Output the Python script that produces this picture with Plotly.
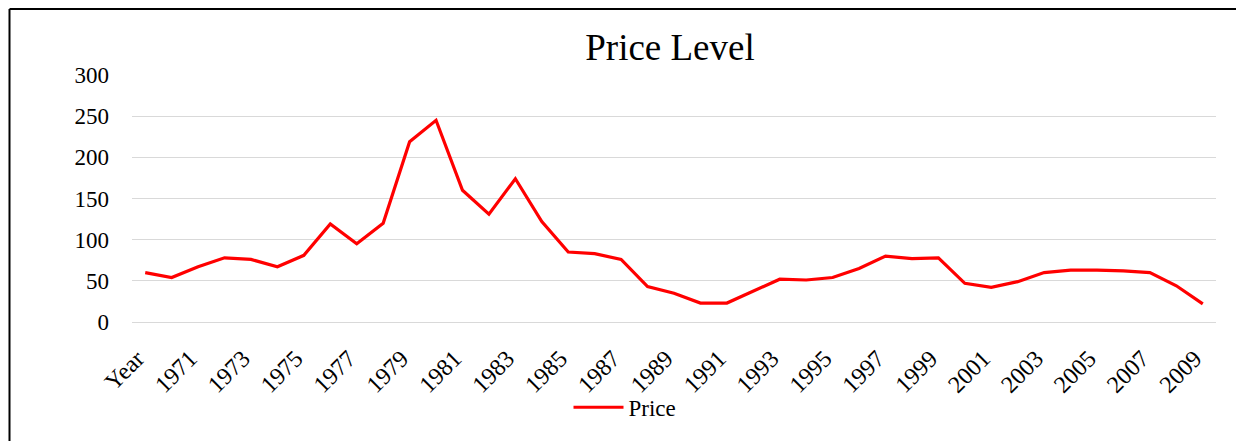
import plotly.graph_objects as go

categories = ["Year"] + [str(y) for y in range(1970, 2010)]
price = [60, 54, 67, 78, 76, 67, 81, 119, 95, 120, 219, 245, 160,
         131, 174, 122, 85, 83, 76, 43, 35, 23, 23, 38, 52, 51, 54,
         65, 80, 77, 78, 47, 42, 49, 60, 63, 63, 62, 60, 44, 22]
tick_labels = categories[::2]
y_ticks = [0, 50, 100, 150, 200, 250, 300]

W, H = 1236, 441
ML, MR, MT, MB = 132, 20, 75, 117
PW, PH = W - ML - MR, H - MT - MB

FONT = "Liberation Serif, Times New Roman, serif"

fig = go.Figure()
fig.add_trace(go.Scatter(
    x=categories, y=price, mode="lines", name="Price",
    line=dict(color="#FF0000", width=3.2),
))

fig.update_layout(
    width=W, height=H,
    margin=dict(l=ML, r=MR, t=MT, b=MB),
    paper_bgcolor="white", plot_bgcolor="white",
    font=dict(family=FONT, color="black"),
    title=dict(text="Price Level", x=(670 - ML) / PW, xref="paper", xanchor="center",
               y=1 - 47 / H, yref="container", yanchor="middle",
               font=dict(family=FONT, size=37, color="black")),
    showlegend=True,
    legend=dict(orientation="h", x=(625 - ML) / PW, xanchor="center",
                y=-(410 - (H - MB)) / PH, yanchor="middle",
                font=dict(family=FONT, size=23, color="black"),
                bgcolor="rgba(0,0,0,0)", itemwidth=50),
    xaxis=dict(type="category", categoryorder="array", categoryarray=categories,
               range=[-0.5, len(categories) - 0.5],
               tickmode="array", tickvals=tick_labels, ticktext=tick_labels,
               tickangle=-45, showgrid=False, showline=True, linecolor="#D9D9D9",
               linewidth=1, ticks="", ticklabelstandoff=12, ticklabelshift=-8,
               tickfont=dict(family=FONT, size=24, color="black")),
    yaxis=dict(range=[0, 300], tickmode="array", tickvals=y_ticks,
               showgrid=True, gridcolor="#D9D9D9", gridwidth=1, zeroline=False,
               showline=False, ticks="", ticklabelstandoff=22,
               tickfont=dict(family=FONT, size=23, color="black")),
    shapes=[
        dict(type="line", xref="paper", yref="paper",
             x0=(9.5 - ML) / PW, x1=(9.5 - ML) / PW,
             y0=1 + (MT - 8.5) / PH, y1=-(H + 20 - (H - MB)) / PH,
             line=dict(color="black", width=2)),
        dict(type="line", xref="paper", yref="paper",
             x0=(9.5 - ML) / PW, x1=(W + 20 - ML) / PW,
             y0=1 + (MT - 8.5) / PH, y1=1 + (MT - 8.5) / PH,
             line=dict(color="black", width=2)),
    ],
)

fig.write_html("out.html", config={"displayModeBar": False},
               post_script="document.body.style.margin='0';document.body.style.overflow='hidden';")
